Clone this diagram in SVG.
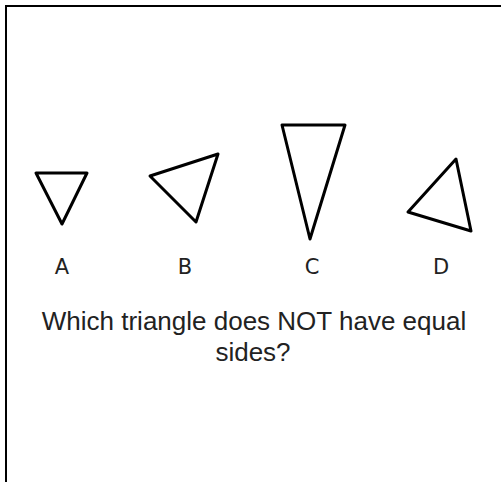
<svg xmlns="http://www.w3.org/2000/svg" width="501" height="482" viewBox="0 0 501 482">
<style>
.tri{fill:#fff;stroke:#000;stroke-width:3;stroke-linejoin:round}
.lbl{font-family:"DejaVu Sans",sans-serif;font-size:21px;fill:#222;text-anchor:middle}
.q{font-family:"Liberation Sans",Arial,sans-serif;font-size:26px;fill:#222;text-anchor:middle}
</style>
<rect width="501" height="482" fill="#fff"/>
<path d="M6,482 V6 H501" fill="none" stroke="#000" stroke-width="2"/>
<g id="A"><polygon class="tri" points="36,173 87,173 62,224"/><text class="lbl" x="62" y="274">A</text></g>
<g id="B"><polygon class="tri" points="150,176 218,154 196,222"/><text class="lbl" x="185" y="274">B</text></g>
<g id="C"><polygon class="tri" points="282,125 345,125 310,239"/><text class="lbl" x="312" y="274">C</text></g>
<g id="D"><polygon class="tri" points="408,212 456,159 471,231"/><text class="lbl" x="441" y="274">D</text></g>
<g id="question"><text class="q" x="254" y="330">Which triangle does NOT have equal</text><text class="q" x="253" y="361">sides?</text></g>
</svg>
